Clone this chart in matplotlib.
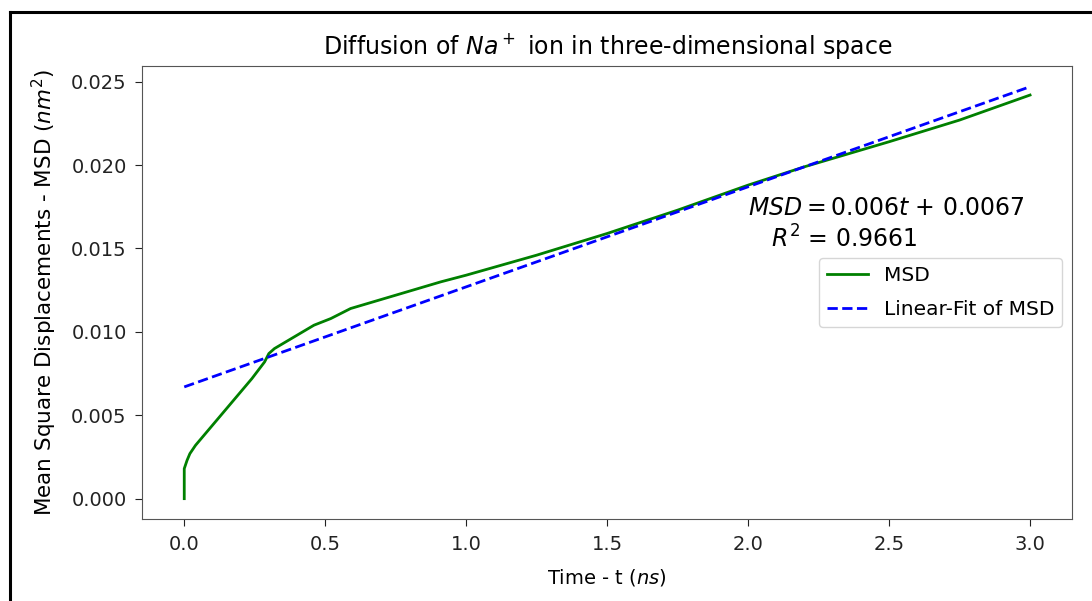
import numpy as np
import matplotlib
matplotlib.use('Agg')
import matplotlib.pyplot as plt
from matplotlib.lines import Line2D

# MSD curve (t in ns, MSD in nm^2)
time_ns = [0.0, 0.0, 0.01, 0.02, 0.04, 0.07, 0.10, 0.15, 0.19, 0.24, 0.285, 0.30, 0.32,
           0.36, 0.40, 0.46, 0.52, 0.59, 0.65, 0.75, 0.91, 1.0, 1.25, 1.5, 1.75,
           2.0, 2.2, 2.5, 2.75, 3.0]
msd = [0.0, 0.0018, 0.0023, 0.0027, 0.0032, 0.0038, 0.0044, 0.0054, 0.0062, 0.0072,
       0.0082, 0.0087, 0.0090, 0.0094, 0.0098, 0.0104, 0.0108, 0.0114, 0.0117, 0.0122,
       0.0130, 0.0134, 0.0146, 0.0159, 0.0173, 0.0188, 0.0199, 0.0214, 0.0227, 0.0242]

# linear fit reported on the chart
slope = 0.006
intercept = 0.0067
r2 = 0.9661
fit_t = [0.0, 3.0]
fit_msd = [intercept + slope * t for t in fit_t]

xticks = [0.0, 0.5, 1.0, 1.5, 2.0, 2.5, 3.0]
yticks = [0.000, 0.005, 0.010, 0.015, 0.020, 0.025]

fig = plt.figure(figsize=(10.92, 6.01), dpi=100)
ax = fig.add_axes([0.130, 0.136, 0.852, 0.754])

ax.plot(time_ns, msd, color='g', lw=2, label='MSD')
ax.plot(fit_t, fit_msd, color='b', lw=2, ls='--', label='Linear-Fit of MSD')

ax.set_xticks(xticks)
ax.set_yticks(yticks)
ax.tick_params(labelsize=14, colors='#222222', length=5, pad=6)
for s in ax.spines.values():
    s.set_color('#555555')

ax.set_title('Diffusion of $Na^+$ ion in three-dimensional space', fontsize=17, pad=9)
ax.set_xlabel('Time - t ($ns$)', fontsize=14, labelpad=10)
ax.set_ylabel('Mean Square Displacements - MSD ($nm^2$)', fontsize=15.5, labelpad=9)

ax.text(2.0, 0.0174, '$MSD = %.3ft$ + %.4f' % (slope, intercept), fontsize=17, va='center')
ax.text(2.08, 0.01555, '$R^2$ = %.4f' % r2, fontsize=17, va='center')
ax.legend(loc='center right', fontsize=14.5, labelspacing=0.75)

# black frame from the screenshot
fig.add_artist(Line2D([10 / 1092, 10 / 1092], [0, 1 - 12 / 601], color='black', lw=2.2,
                      solid_capstyle='projecting'))
fig.add_artist(Line2D([10 / 1092, 1], [1 - 12 / 601, 1 - 12 / 601], color='black', lw=2.2,
                      solid_capstyle='projecting'))

fig.savefig('out.png', dpi=100)
